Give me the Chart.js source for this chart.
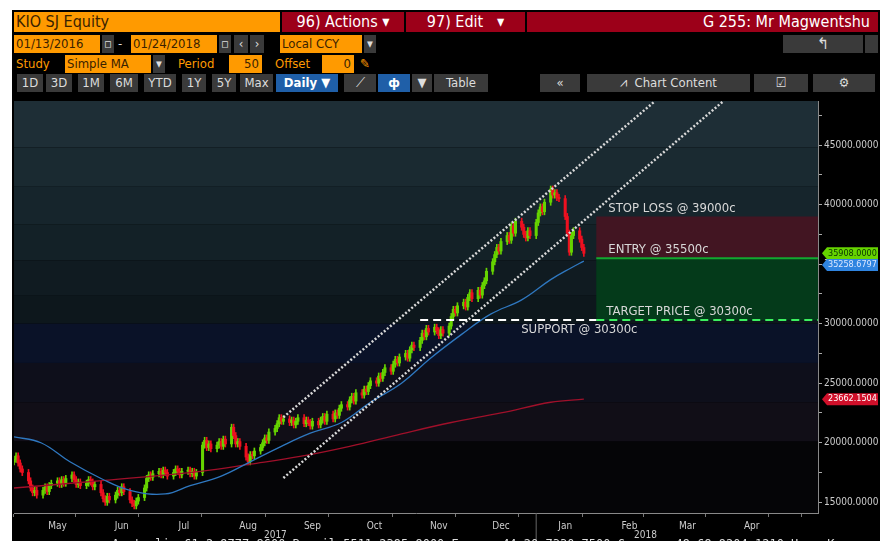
<!DOCTYPE html>
<html><head><meta charset="utf-8">
<script src="https://cdn.jsdelivr.net/npm/chart.js@4"></script>
<style>
  body{margin:0;background:#fff;font-family:"DejaVu Sans Condensed","Liberation Sans Narrow",sans-serif;}
  #frame{position:absolute;left:12px;top:10px;width:868px;height:531px;background:#000;overflow:hidden}
  .b{position:absolute;height:18px;line-height:18px;font-size:13px;white-space:nowrap;box-sizing:border-box}
  .o{background:#ff9a00;color:#3a2200;padding-left:2px}
  .m{background:#9c0019;color:#fff;text-align:center;font-size:16px;height:20px;line-height:20px}
  .g{background:#3a3a3a;color:#ddd;text-align:center}
  .bl{background:#1f5fa8;color:#fff;text-align:center;font-weight:bold}
  .t{color:#ff9a00}
  #cv{position:absolute;left:0;top:83px}
  #foot{position:absolute;left:100px;top:527px;color:#ddd;font-size:12px;font-family:"DejaVu Sans Mono",monospace}
</style></head>
<body>
<div id="frame">
  <div class="b o" style="left:2px;top:2px;width:266px;height:20px;line-height:20px;font-size:16px">KIO SJ Equity</div>
  <div class="b m" style="left:270px;top:2px;width:122px">96) Actions ▾</div>
  <div class="b m" style="left:394px;top:2px;width:119px">97) Edit &nbsp; ▾</div>
  <div class="b m" style="left:515px;top:2px;width:351px;text-align:right;padding-right:8px">G 255: Mr Magwentshu</div>

  <div class="b o" style="left:2px;top:25px;width:86px">01/13/2016</div>
  <div class="b g" style="left:90px;top:25px;width:12px">▫</div>
  <div class="b" style="left:106px;top:25px;color:#ddd">-</div>
  <div class="b o" style="left:119px;top:25px;width:86px">01/24/2018</div>
  <div class="b g" style="left:207px;top:25px;width:12px">▫</div>
  <div class="b g" style="left:222px;top:25px;width:14px">‹</div>
  <div class="b g" style="left:238px;top:25px;width:14px">›</div>
  <div class="b o" style="left:268px;top:25px;width:82px">Local CCY</div>
  <div class="b g" style="left:352px;top:25px;width:12px">▾</div>
  <div class="b g" style="left:771px;top:25px;width:80px;font-size:16px">↰</div>
  <div class="b g" style="left:853px;top:25px;width:13px"></div>

  <div class="b t" style="left:4px;top:45px">Study</div>
  <div class="b o" style="left:53px;top:45px;width:86px">Simple MA</div>
  <div class="b g" style="left:141px;top:45px;width:12px">▾</div>
  <div class="b t" style="left:166px;top:45px">Period</div>
  <div class="b o" style="left:217px;top:45px;width:33px;text-align:right;padding-right:3px">50</div>
  <div class="b t" style="left:263px;top:45px">Offset</div>
  <div class="b o" style="left:310px;top:45px;width:32px;text-align:right;padding-right:3px">0</div>
  <div class="b" style="left:348px;top:45px;color:#ff9a00">✎</div>

  <div class="b g" style="left:5px;top:64px;width:26px">1D</div>
  <div class="b g" style="left:34px;top:64px;width:26px">3D</div>
  <div class="b g" style="left:66px;top:64px;width:26px">1M</div>
  <div class="b g" style="left:98px;top:64px;width:28px">6M</div>
  <div class="b g" style="left:132px;top:64px;width:32px">YTD</div>
  <div class="b g" style="left:170px;top:64px;width:24px">1Y</div>
  <div class="b g" style="left:200px;top:64px;width:24px">5Y</div>
  <div class="b g" style="left:228px;top:64px;width:33px">Max</div>
  <div class="b bl" style="left:264px;top:64px;width:62px">Daily ▼</div>
  <div class="b g" style="left:332px;top:64px;width:32px">⟋</div>
  <div class="b bl" style="left:366px;top:64px;width:32px">ф</div>
  <div class="b g" style="left:400px;top:64px;width:20px">▼</div>
  <div class="b g" style="left:422px;top:64px;width:54px">Table</div>
  <div class="b g" style="left:528px;top:64px;width:40px">«</div>
  <div class="b g" style="left:575px;top:64px;width:163px">⩘ &nbsp;Chart Content</div>
  <div class="b g" style="left:742px;top:64px;width:54px">☑</div>
  <div class="b g" style="left:801px;top:64px;width:62px">⚙</div>

  <canvas id="cv" width="868" height="448"></canvas>
  <div id="foot">Australia 61 2 9777 8600 Brazil 5511 2395 9000 Europe 44 20 7330 7500 Germany 49 69 9204 1210 Hong Kong 852 2977 6000</div>
</div>
<script>
// Daily closes from 24 Apr 2017 (Mon) to 24 Jan 2018, 5 per week
const closes = [
  18600,18900,18300,17800,17500, 16800,16200,15800,16000,15600, 16000,16300,15900,16400,16600,
  16800,16500,16900,16600,17000, 17300,16900,16500,16700,16400, 16600,16900,16700,16300,16500,
  15800,15300,15000,15500,15200, 15600,16000,15800,16300,15900, 15200,14900,14700,15100,15400,
  16200,17000,17300,17100,17400, 17600,17300,17700,17500,17200, 17500,17800,17600,17300,17600,
  17700,17400,17600,17200,17500, 19800,20200,19600,19900,19500, 19800,20100,19700,20300,19900,
  21300,20600,19900,20100,19700, 18800,18400,19000,18900,19300, 19600,20000,20400,20200,20900,
  21200,21600,22100,21800,22000, 21700,21900,21500,21800,22100, 21600,21900,21700,21400,21800,
  21500,21900,22200,21800,22400, 22000,22500,22300,22900,23200, 23000,23600,23900,23500,24200,
  24000,24500,24300,24800,25200, 25000,25600,25400,25900,26300, 26000,26600,27000,26700,27200,
  27500,27100,27800,28200,28000, 28600,29200,28900,29600,29300, 29700,29400,29000,29500,29200,
  29800,30600,31200,30900,31500, 31800,31400,32200,32600,32100, 32800,32400,33200,33600,34400,
  35200,35800,36400,36100,36900, 37400,37000,38200,37600,38600, 38100,37500,37200,37800,37400,
  38500,39300,39800,39400,40200, 41300,40800,41000,40600,40500, 39000,37600,36000,37400,37800,
  37100,36400,35908
];
const openFirst = 18400;
const wick = 260;

// moving averages, x in calendar days since 24 Apr 2017
const sma50Days = [0,13,27,42,56,73,85,100,114,129,143,158,172,187,201,216,230,245,259,269,275];
const sma50Vals = [20500,20000,18400,17000,16000,15700,16400,17200,18400,19700,20800,21700,23400,25000,27100,29100,30800,32000,33700,34700,35258.68];
const sma200Days = [0,41,90,114,138,162,187,211,235,259,275];
const sma200Vals = [16200,16800,17600,18200,18850,19700,20750,21700,22500,23400,23662.15];

// trend channel
const chanUpper = [{x:130,y:22140},{x:309,y:48640}];
const chanLower = [{x:130,y:17040},{x:342,y:48640}];

const stopLoss = 39000, entry = 35500, target = 30300, support = 30300;
const zoneStart = 281, supportStart = 196;
const monthNames = ['May','Jun','Jul','Aug','Sep','Oct','Nov','Dec','Jan','Feb','Mar','Apr'];

const t0 = Date.UTC(2017,3,24);
const dayOf = (y,m,d) => (Date.UTC(y,m,d)-t0)/864e5;

const bodies = [], wicks = [], bodyCols = [];
closes.forEach((c,i) => {
  const x = Math.floor(i/5)*7 + i%5;
  const o = i === 0 ? openFirst : closes[i-1];
  bodies.push({x, y:[o, c === o ? c+40 : c]});
  wicks.push({x, y:[Math.min(o,c)-wick, Math.max(o,c)+wick]});
  bodyCols.push(c >= o ? '#66d400' : '#ee1020');
});

const monthStarts = [], monthMids = [];
for (let k=0;k<13;k++){
  monthStarts.push(dayOf(2017,4+k,1));
  if (k<12) monthMids.push(dayOf(2017,4+k,15));
}
const isMid = v => monthMids.some(m => Math.abs(m-v) < 0.01);

const bands = [
  [44800,48700,'#1e2e36'],[41500,44800,'#1a2a31'],[38350,41500,'#16252c'],[35300,38350,'#132127'],
  [32400,35300,'#101b21'],[30000,32400,'#0d171c'],[26700,30000,'#0a1228'],[23400,26700,'#0e0f1b'],
  [20100,23400,'#110e17'],[14100,20100,'#050507']
];

const overlay = {
  id:'overlay',
  beforeDatasetsDraw(chart){
    const {ctx, chartArea:a, scales:{x,y}} = chart;
    ctx.save();
    bands.forEach(([lo,hi,c]) => {
      ctx.fillStyle = c;
      ctx.fillRect(a.left, y.getPixelForValue(hi), a.right-a.left, y.getPixelForValue(lo)-y.getPixelForValue(hi));
    });
    const zx = x.getPixelForValue(zoneStart);
    ctx.fillStyle = '#421522';
    ctx.fillRect(zx, y.getPixelForValue(stopLoss), a.right-zx, y.getPixelForValue(entry)-y.getPixelForValue(stopLoss));
    ctx.fillStyle = '#043a1a';
    ctx.fillRect(zx, y.getPixelForValue(entry), a.right-zx, y.getPixelForValue(target)-y.getPixelForValue(entry));
    ctx.restore();
  },
  afterDatasetsDraw(chart){
    const {ctx, chartArea:a, scales:{x,y}} = chart;
    ctx.save();
    const zx = x.getPixelForValue(zoneStart);
    ctx.lineWidth = 2;
    ctx.strokeStyle = '#12a830';
    ctx.beginPath(); ctx.moveTo(zx, y.getPixelForValue(entry)); ctx.lineTo(a.right, y.getPixelForValue(entry)); ctx.stroke();
    ctx.setLineDash([8,5]);
    ctx.strokeStyle = '#3cf060';
    ctx.beginPath(); ctx.moveTo(zx, y.getPixelForValue(target)); ctx.lineTo(a.right, y.getPixelForValue(target)); ctx.stroke();
    ctx.strokeStyle = '#ffffff';
    ctx.beginPath(); ctx.moveTo(x.getPixelForValue(supportStart), y.getPixelForValue(support)); ctx.lineTo(zx, y.getPixelForValue(support)); ctx.stroke();
    ctx.setLineDash([]);
    ctx.font = '13px "DejaVu Sans Condensed", sans-serif';
    ctx.fillStyle = '#d8d8d8';
    ctx.textBaseline = 'bottom';
    ctx.fillText('STOP LOSS @ 39000c', zx+12, y.getPixelForValue(stopLoss)-1);
    ctx.fillText('ENTRY @ 35500c', zx+12, y.getPixelForValue(entry)-2);
    ctx.fillText('TARGET PRICE @ 30300c', zx+10, y.getPixelForValue(target)-2);
    ctx.textBaseline = 'top';
    ctx.fillText('SUPPORT @ 30300c', x.getPixelForValue(supportStart)+101, y.getPixelForValue(support)+3);
    // price tags
    const tags = [[35908,'35908.0000','#66d400','#0a3300'],[35258.68,'35258.6797','#2f84e0','#dce8ff'],[23662.15,'23662.1504','#d0102a','#fff']];
    ctx.font = '9px "DejaVu Sans Condensed", sans-serif';
    ctx.textBaseline = 'middle';
    tags.forEach(([v,t,bg,fg],i) => {
      const py = y.getPixelForValue(v) + (i===1 ? 4 : 0);
      ctx.fillStyle = bg;
      ctx.beginPath(); ctx.moveTo(a.right+4, py); ctx.lineTo(a.right+9, py-6); ctx.lineTo(a.right+60, py-6);
      ctx.lineTo(a.right+60, py+6); ctx.lineTo(a.right+9, py+6); ctx.closePath(); ctx.fill();
      ctx.fillStyle = fg; ctx.textAlign = 'left';
      ctx.fillText(t, a.right+10, py);
    });
    // year labels
    ctx.font = '10px "DejaVu Sans Condensed", sans-serif';
    ctx.fillStyle = '#ccc'; ctx.textAlign = 'center'; ctx.textBaseline = 'top';
    ctx.fillText('2017', x.getPixelForValue(dayOf(2017,8,1))-8, a.bottom+17);
    ctx.fillText('2018', x.getPixelForValue(dayOf(2018,2,1))-13, a.bottom+17);
    ctx.strokeStyle = '#666'; ctx.lineWidth = 1;
    const jx = x.getPixelForValue(dayOf(2018,0,1));
    ctx.beginPath(); ctx.moveTo(jx, a.bottom); ctx.lineTo(jx, a.bottom+35); ctx.stroke();
    ctx.restore();
  }
};

new Chart(document.getElementById('cv'), {
  type:'bar',
  data:{ datasets:[
    {type:'line', data:chanUpper, borderColor:'#d8d8d8', borderWidth:2.5, borderDash:[2,2], pointRadius:0, order:0},
    {type:'line', data:chanLower, borderColor:'#d8d8d8', borderWidth:2.5, borderDash:[2,2], pointRadius:0, order:0},
    {type:'line', data:sma50Days.map((d,i)=>({x:d,y:sma50Vals[i]})), borderColor:'#2f78c0', borderWidth:1.3, pointRadius:0, tension:0.4, order:1},
    {type:'line', data:sma200Days.map((d,i)=>({x:d,y:sma200Vals[i]})), borderColor:'#a0102a', borderWidth:1.3, pointRadius:0, tension:0.4, order:1},
    {data:wicks, backgroundColor:bodyCols, barThickness:1, grouped:false, order:3},
    {data:bodies, backgroundColor:bodyCols, barThickness:2.4, grouped:false, order:2}
  ]},
  options:{
    animation:false, responsive:false, devicePixelRatio:1,
    layout:{padding:{left:2,top:2,right:0,bottom:0}},
    plugins:{legend:{display:false}, tooltip:{enabled:false}},
    scales:{
      x:{type:'linear', min:0, max:388, offset:false,
        afterBuildTicks: s => { s.ticks = monthStarts.concat(monthMids).sort((a,b)=>a-b).map(v=>({value:v})); },
        ticks:{autoSkip:false, maxRotation:0, color:'#ccc', font:{size:10, family:'"DejaVu Sans Condensed", sans-serif'},
          callback: v => { const i = monthMids.findIndex(m=>Math.abs(m-v)<0.01); return i<0 ? '' : monthNames[i]; }},
        grid:{drawOnChartArea:false, tickLength:4,
          color: c => (c.tick && isMid(c.tick.value)) ? 'rgba(0,0,0,0)' : '#777'},
        border:{color:'#888'}, afterFit: s => { s.height = 28; }
      },
      y:{position:'right', min:14100, max:48700,
        afterBuildTicks: s => { const t=[]; for(let v=15000;v<=47500;v+=2500) t.push({value:v}); s.ticks=t; },
        ticks:{color:'#ccc', padding:2, font:{size:10, family:'"DejaVu Sans Condensed", sans-serif'},
          callback: v => v % 5000 === 0 ? v.toFixed(4) : ''},
        grid:{drawOnChartArea:false, color:'#aaa', tickLength:4},
        border:{color:'#888'}, afterFit: s => { s.width = 62; }
      }
    }
  },
  plugins:[overlay]
});
</script>
</body></html>
